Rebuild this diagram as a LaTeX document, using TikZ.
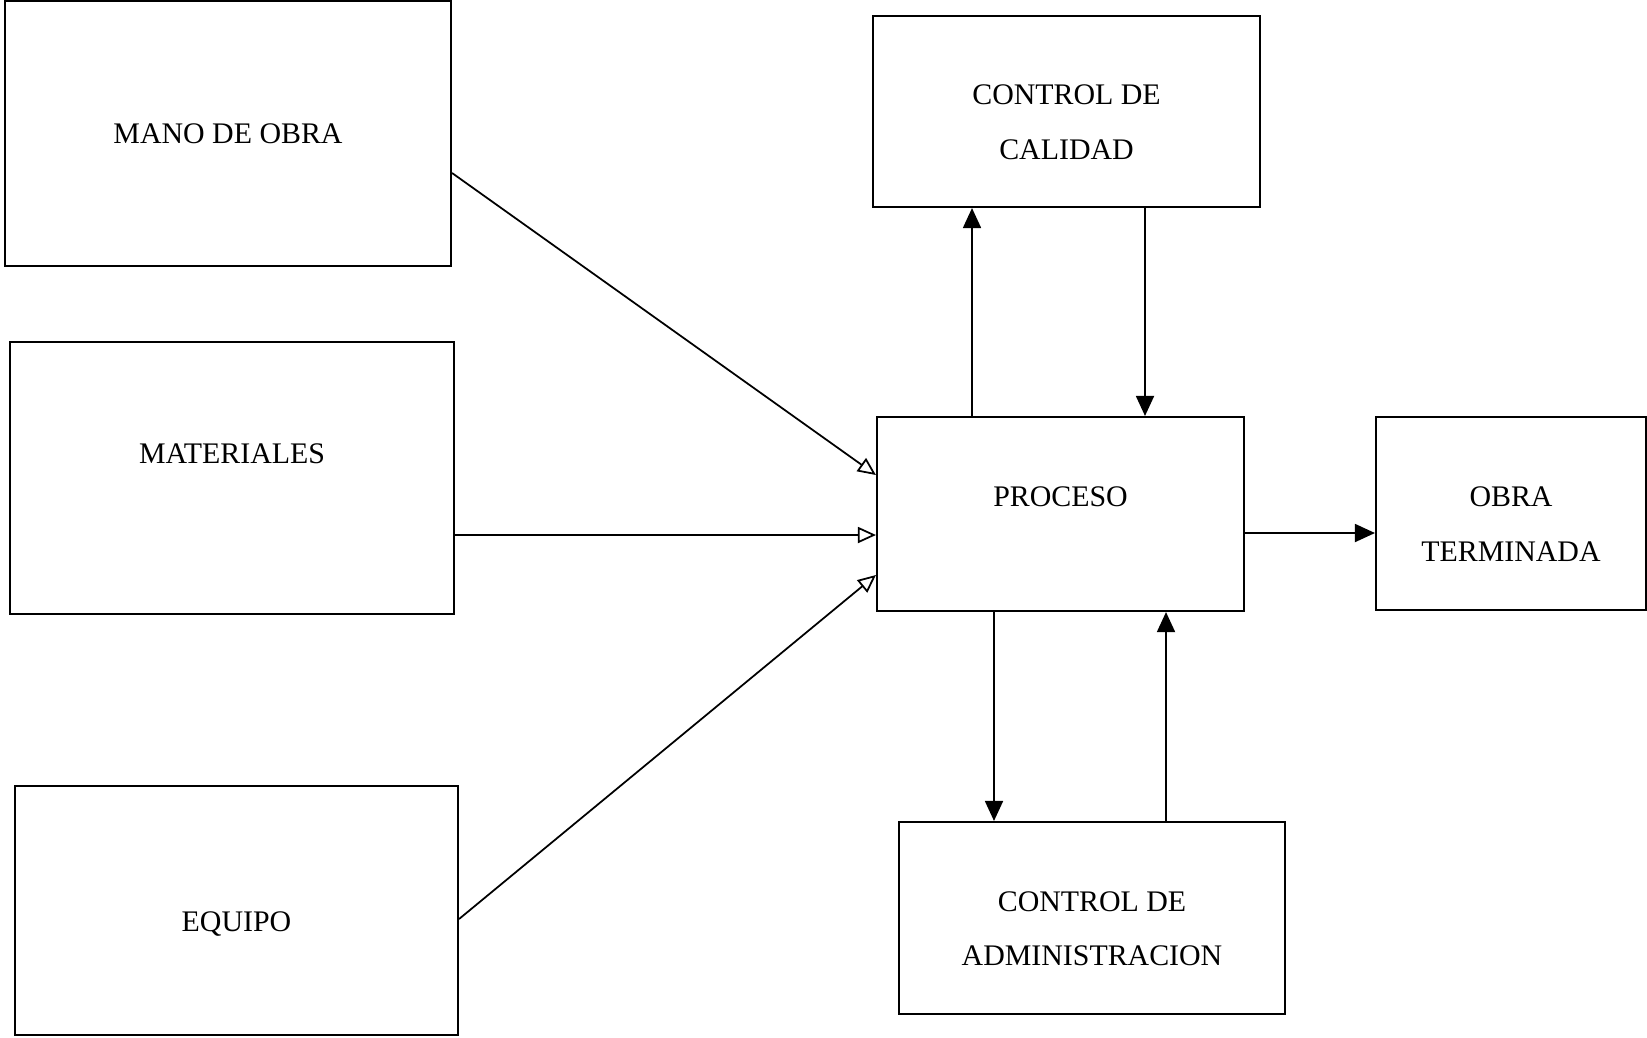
\documentclass[tikz,border=0pt]{standalone}
\usepackage{fontspec}
\setmainfont{Liberation Serif}
\usepackage{tikz}
\usetikzlibrary{arrows.meta,positioning}

\begin{document}
\begin{tikzpicture}[
        box/.style={rectangle, draw, line width=1.2pt, align=center,
                    font=\fontsize{17}{31}\selectfont, inner sep=0pt},
        arrow/.style={-{Triangle[length=4mm, width=3.6mm]}, line width=1pt},
        openarrow/.style={-{Triangle[open, length=3.6mm, width=3.2mm, line width=1pt]}, line width=1pt}
    ]
        \useasboundingbox (0,0) rectangle (32.94,-20.74);

        % inputs
        \node[box, minimum width=8.92cm, minimum height=5.30cm] (mano) at (4.56,-2.67) {MANO DE OBRA};
        \node[box, minimum width=8.88cm, minimum height=5.44cm, text depth=0.96cm] (mat) at (4.64,-9.56) {MATERIALES};
        \node[box, minimum width=8.86cm, minimum height=4.98cm, text height=0.94cm] (equipo) at (4.73,-18.21) {EQUIPO};

        % process and controls
        \node[box, minimum width=7.34cm, minimum height=3.88cm, text depth=0.68cm] (proc) at (21.21,-10.28) {PROCESO};
        \node[box, minimum width=7.74cm, minimum height=3.82cm, text height=1.91cm, text depth=0pt] (calidad) at (21.33,-2.23) {CONTROL DE\\ CALIDAD};
        \node[box, minimum width=7.72cm, minimum height=3.84cm, text height=1.91cm, text depth=0pt] (admin) at (21.84,-18.36) {CONTROL DE\\ ADMINISTRACION};
        \node[box, minimum width=5.40cm, minimum height=3.86cm, text height=1.91cm, text depth=0pt] (obra) at (30.22,-10.27) {OBRA\\ TERMINADA};

        \draw[openarrow] ([yshift=-0.79cm]mano.east) -- ([yshift=0.78cm]proc.west);
        \draw[openarrow] ([yshift=-1.14cm]mat.east) coordinate (m) -- (m -| proc.west);
        \draw[openarrow] ([yshift=-0.17cm]equipo.east) -- ([yshift=-1.22cm]proc.west);

        \draw[arrow] ([xshift=-1.77cm]proc.north) coordinate (p1) -- (p1 |- calidad.south);
        \draw[arrow] ([xshift=1.57cm]calidad.south) coordinate (c1) -- (c1 |- proc.north);
        \draw[arrow] ([xshift=-1.33cm]proc.south) coordinate (p2) -- (p2 |- admin.north);
        \draw[arrow] ([xshift=1.48cm]admin.north) coordinate (a1) -- (a1 |- proc.south);
        \draw[arrow] ([yshift=-0.38cm]proc.east) coordinate (p3) -- (p3 -| obra.west);
    \end{tikzpicture}
\end{document}
